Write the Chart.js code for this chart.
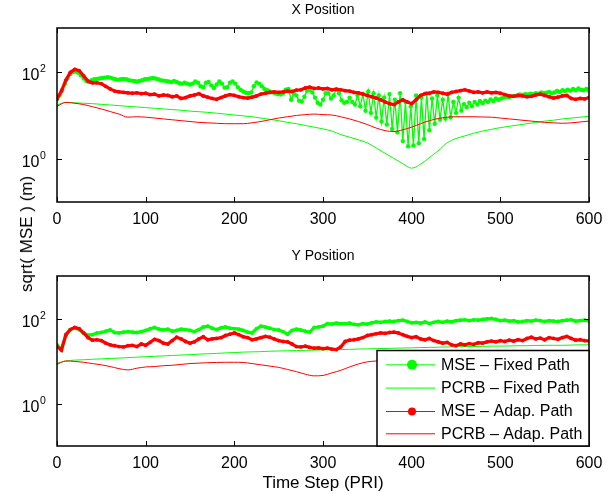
<!doctype html>
<html lang="en">
<head>
<meta charset="utf-8">
<title>X / Y Position - sqrt(MSE)</title>
<style>
  body { margin: 0; background: #fff; }
  #wrap { position: relative; width: 616px; height: 494px; background: #fff; font-family: "Liberation Sans", Arial, sans-serif; }
  #topChart { position: absolute; left: 0; top: 0; }
  #botChart { position: absolute; left: 0; top: 244px; }
  #ylab { position: absolute; left: 27px; top: 234px; transform: translate(-50%, -50%) rotate(-90deg);
          font-size: 17px; white-space: nowrap; color: #000; line-height: normal; }
</style>
</head>
<body>
<div id="wrap">
  <canvas id="topChart" width="616" height="244"></canvas>
  <canvas id="botChart" width="616" height="250"></canvas>
  <div id="ylab">sqrt( MSE ) (m)</div>
</div>

<script src="https://cdn.jsdelivr.net/npm/chart.js"></script>
<script>
  const FONT = '"Liberation Sans", Arial, sans-serif';
  const GREEN = 'rgb(0, 255, 0)';
  const RED = 'rgb(255, 0, 0)';

  const X_TICKS = [0, 100, 200, 300, 400, 500, 600];
  const Y_TICKS = [1, 100];
  const Y_TICK_EXP = ['0', '2'];

  // time steps (PRI) of the sampled values
  function steps(n, step) { return Array.from({length: n}, (_, i) => i * step); }
  const t3 = steps(201, 3);
  const t5 = steps(121, 5);
  const t10 = steps(61, 10);

  // ---- X Position ----
  const xMseFixed = [
    23.4, 28.2, 38.0, 52.5, 70.8, 87.1, 97.7, 100, 93.3, 81.3,
    69.2, 60.3, 57.5, 63.1, 66.1, 67.6, 69.2, 70.8, 72.4, 74.1,
    72.4, 69.2, 66.1, 64.6, 66.1, 67.6, 66.1, 63.1, 61.7, 60.3,
    58.9, 60.3, 63.1, 66.1, 67.6, 69.2, 70.8, 69.2, 66.1, 63.1,
    61.7, 60.3, 58.9, 57.5, 60.3, 57.5, 53.7, 52.5, 55.0, 52.5,
    50.1, 52.5, 58.9, 55.0, 45.7, 43.7, 55.0, 57.5, 47.9, 41.7,
    50.1, 58.9, 52.5, 42.7, 43.7, 55.0, 58.9, 52.5, 43.7, 38.0,
    34.7, 32.4, 31.6, 33.1, 45.7, 56.2, 52.5, 45.7, 39.8, 37.2,
    34.7, 33.1, 31.6, 30.2, 29.5, 31.6, 38.0, 39.8, 22.4, 31.6,
    28.2, 21.4, 20.4, 26.3, 36.3, 38.0, 33.1, 25.1, 19.1, 17.4,
    22.4, 31.6, 31.6, 24.0, 28.2, 39.8, 31.6, 21.9, 19.1, 20.0,
    25.1, 20.0, 17.4, 28.2, 15.8, 30.2, 12.6, 34.7, 11.2, 31.6,
    8.71, 28.2, 7.08, 25.1, 6.03, 30.2, 4.79, 22.4, 3.98, 31.6,
    2.51, 20.0, 1.91, 15.8, 2.00, 28.2, 2.24, 25.1, 2.82, 31.6,
    4.47, 24.0, 6.31, 28.2, 7.94, 22.4, 8.32, 29.5, 8.91, 20.0,
    11.2, 25.1, 12.6, 17.8, 15.1, 19.1, 15.8, 20.0, 17.4, 20.9,
    18.6, 21.4, 20.0, 22.9, 20.9, 24.0, 22.4, 24.0, 25.1, 26.3,
    25.7, 26.9, 27.5, 28.2, 29.5, 28.8, 30.2, 29.5, 30.9, 30.2,
    31.6, 30.9, 33.1, 31.6, 32.4, 33.9, 31.6, 33.1, 35.5, 33.9,
    37.2, 35.5, 38.0, 36.3, 39.8, 37.2, 40.7, 38.0, 37.2, 39.8,
    36.3
  ];
  const xPcrbFixed = [
    17.0, 19.5, 19.1, 18.6, 18.2, 17.6, 17.0, 16.4, 15.8, 15.3,
    14.8, 14.3, 13.8, 13.3, 12.9, 12.3, 11.9, 11.5, 11.0, 10.5,
    10.0, 9.55, 9.12, 8.51, 7.94, 7.41, 6.76, 6.31, 5.75, 5.25,
    4.79, 4.27, 3.55, 3.09, 2.69, 2.29, 1.74, 1.32, 1.00, 0.76,
    0.60, 0.74, 1.05, 1.51, 2.29, 2.88, 3.31, 3.80, 4.27, 4.68,
    5.13, 5.50, 5.89, 6.31, 6.76, 7.24, 7.59, 8.13, 8.51, 8.91,
    9.33
  ];
  const xMseAdap = [
    23.4, 35.5, 63.1, 95.5, 112, 105, 79.4, 60.3, 55.0, 55.0,
    52.5, 45.7, 39.8, 35.5, 33.9, 33.1, 32.4, 31.6, 32.4, 30.9,
    31.6, 29.5, 30.2, 27.5, 28.8, 28.2, 26.3, 27.5, 24.0, 25.1,
    27.5, 28.8, 30.9, 27.5, 25.7, 24.0, 22.9, 25.1, 27.5, 29.5,
    28.2, 26.3, 25.1, 24.5, 25.7, 27.5, 30.2, 31.6, 33.1, 33.9,
    33.1, 33.9, 35.5, 34.7, 37.2, 38.0, 41.7, 43.7, 40.7, 41.7,
    39.8, 40.7, 38.0, 38.9, 38.0, 36.3, 35.5, 33.1, 32.4, 30.2,
    28.2, 26.3, 24.5, 22.4, 20.0, 18.2, 17.4, 20.0, 22.4, 20.0,
    18.2, 22.4, 28.2, 30.9, 31.6, 33.9, 33.1, 31.6, 30.2, 33.1,
    34.7, 36.3, 38.0, 35.5, 33.1, 33.9, 32.4, 33.9, 32.4, 33.1,
    31.6, 29.5, 27.5, 26.9, 28.2, 27.5, 26.3, 26.9, 28.8, 30.2,
    28.2, 26.3, 24.5, 25.7, 27.5, 28.2, 24.0, 22.9, 24.0, 23.4,
    25.1
  ];
  const xPcrbAdap = [
    15.8, 19.5, 18.6, 17.4, 15.5, 13.8, 12.0, 10.5, 8.91, 9.12,
    8.91, 8.51, 8.13, 7.76, 7.41, 7.08, 6.76, 6.61, 6.46, 6.31,
    6.31, 6.31, 6.61, 7.08, 7.76, 8.51, 9.12, 9.77, 10.2, 10.5,
    10.2, 10.0, 9.12, 8.13, 7.08, 6.03, 5.01, 4.37, 4.17, 4.57,
    5.25, 6.31, 7.41, 8.32, 8.91, 9.12, 9.12, 9.12, 9.00, 8.91,
    8.51, 8.13, 7.76, 7.41, 7.08, 6.76, 6.61, 6.46, 6.61, 6.92,
    7.24
  ];

  // ---- Y Position ----
  const yMseFixed = [
    24.0, 18.2, 39.8, 55.0, 58.9, 55.0, 44.7, 40.7, 41.7, 45.7,
    46.8, 50.1, 53.7, 46.8, 45.7, 47.9, 49.0, 47.9, 46.8, 49.0,
    52.5, 57.5, 61.7, 56.2, 53.7, 56.2, 50.1, 52.5, 56.2, 55.0,
    52.5, 49.0, 55.0, 63.1, 66.1, 58.9, 55.0, 60.3, 63.1, 58.9,
    57.5, 56.2, 52.5, 47.9, 45.7, 57.5, 66.1, 63.1, 58.9, 55.0,
    53.7, 49.0, 42.7, 52.5, 56.2, 53.7, 50.1, 47.9, 61.7, 63.1,
    66.1, 75.9, 74.1, 77.6, 75.9, 75.9, 77.6, 72.4, 70.8, 75.9,
    74.1, 79.4, 83.2, 81.3, 85.1, 87.1, 85.1, 89.1, 91.2, 85.1,
    79.4, 81.3, 77.6, 83.2, 75.9, 81.3, 85.1, 81.3, 87.1, 83.2,
    89.1, 91.2, 93.3, 89.1, 93.3, 91.2, 95.5, 97.7, 100, 95.5,
    89.1, 91.2, 87.1, 89.1, 83.2, 85.1, 89.1, 87.1, 91.2, 89.1,
    85.1, 89.1, 87.1, 85.1, 89.1, 91.2, 93.3, 87.1, 89.1, 91.2,
    87.1
  ];
  const yPcrbFixed = [
    8.91, 10.0, 10.5, 10.7, 11.0, 11.2, 11.5, 11.7, 12.0, 12.3,
    12.6, 12.9, 13.2, 13.5, 13.8, 14.1, 14.5, 14.8, 15.1, 15.5,
    15.8, 16.2, 16.4, 16.6, 17.0, 17.2, 17.4, 17.6, 17.8, 18.0,
    18.2, 18.4, 18.6, 18.8, 19.1, 19.3, 19.5, 19.7, 20.0, 20.2,
    20.4, 20.7, 20.9, 21.1, 21.4, 21.6, 21.9, 21.9, 22.1, 22.4,
    22.4, 22.6, 22.9, 22.9, 23.2, 23.4, 23.4, 23.4, 23.7, 24.0,
    24.0
  ];
  const yMseAdap = [
    21.9, 18.2, 41.7, 55.0, 61.7, 57.5, 45.7, 35.5, 30.9, 31.6,
    30.2, 26.3, 24.0, 22.9, 21.9, 21.4, 22.9, 23.4, 21.9, 25.1,
    23.4, 27.5, 32.4, 30.2, 26.3, 25.1, 30.2, 36.3, 33.1, 28.8,
    26.3, 28.2, 33.1, 37.2, 31.6, 33.1, 33.9, 35.5, 39.8, 42.7,
    45.7, 41.7, 37.2, 35.5, 31.6, 33.1, 35.5, 38.0, 36.3, 33.1,
    30.2, 28.8, 28.2, 25.1, 21.9, 21.4, 22.4, 20.9, 20.0, 20.4,
    19.5, 20.0, 19.1, 18.6, 21.4, 28.8, 30.9, 31.6, 33.1, 35.5,
    39.8, 41.7, 43.7, 45.7, 44.7, 46.8, 47.9, 45.7, 41.7, 38.0,
    35.5, 37.2, 33.1, 31.6, 33.9, 30.2, 28.2, 26.3, 27.5, 24.0,
    22.9, 25.1, 24.0, 25.7, 24.5, 26.9, 26.3, 28.2, 29.5, 28.2,
    30.2, 28.8, 30.9, 29.5, 31.6, 30.2, 33.9, 36.3, 33.1, 34.7,
    31.6, 35.5, 33.9, 32.4, 35.5, 38.0, 33.9, 30.9, 31.6, 30.2,
    29.5
  ];
  const yPcrbAdap = [
    8.32, 10.0, 9.77, 9.33, 8.71, 8.13, 7.41, 6.61, 6.17, 6.76,
    7.24, 7.41, 7.76, 7.94, 8.32, 8.71, 8.91, 9.12, 9.23, 9.33,
    9.33, 9.23, 8.71, 8.13, 7.59, 7.08, 6.31, 5.62, 4.90, 4.47,
    4.57, 5.25, 6.03, 7.24, 8.51, 9.55, 10.0, 10.2, 10.5, 10.5,
    10.5, 10.7, 10.7, 10.7, 10.7, 10.5, 10.5, 10.2, 10.2, 10.0,
    10.0, 9.77, 9.77, 9.55, 9.55, 9.55, 9.77, 9.77, 10.0, 10.0,
    10.2
  ];

  function pts(ts, vs) { return ts.map((t, i) => ({x: t, y: vs[i]})); }

  function makeDatasets(mseFixed, tFixed, pcrbFixed, mseAdap, pcrbAdap) {
    const dense = tFixed === t3;
    return [
      {label: 'MSE \u2013 Fixed Path', data: pts(tFixed, mseFixed), borderColor: GREEN, backgroundColor: GREEN,
       borderWidth: dense ? 1.3 : 3.2, pointRadius: dense ? 2.2 : 1.9, pointBorderWidth: 0, pointHoverRadius: 0,
       order: 4, legendMarker: 5},
      {label: 'PCRB \u2013 Fixed Path', data: pts(t10, pcrbFixed), borderColor: GREEN, borderWidth: 1,
       pointRadius: 0, cubicInterpolationMode: 'monotone', order: 3},
      {label: 'MSE \u2013 Adap. Path', data: pts(t5, mseAdap), borderColor: RED, backgroundColor: RED,
       borderWidth: 3.2, pointRadius: 1.9, pointBorderWidth: 0, pointHoverRadius: 0, order: 2, legendMarker: 4},
      {label: 'PCRB \u2013 Adap. Path', data: pts(t10, pcrbAdap), borderColor: RED, borderWidth: 1,
       pointRadius: 0, cubicInterpolationMode: 'monotone', order: 1}
    ];
  }

  function line(ctx, x1, y1, x2, y2) {
    ctx.beginPath(); ctx.moveTo(x1, y1); ctx.lineTo(x2, y2); ctx.stroke();
  }

  // matlab style box, inward ticks, 10^n labels and the axes title
  const framePlugin = {
    id: 'frame',
    afterDraw(chart, args, opts) {
      const {ctx, chartArea: a, scales: {x, y}} = chart;
      ctx.save();
      ctx.strokeStyle = '#000';
      ctx.lineWidth = 1.5;
      ctx.strokeRect(a.left, a.top, a.right - a.left, a.bottom - a.top);
      ctx.lineWidth = 1;
      X_TICKS.forEach(v => {
        const px = Math.round(x.getPixelForValue(v)) + 0.5;
        line(ctx, px, a.bottom, px, a.bottom - 5);
        line(ctx, px, a.top, px, a.top + 5);
      });
      ctx.fillStyle = '#000';
      Y_TICKS.forEach((v, i) => {
        const py = Math.round(y.getPixelForValue(v)) + 0.5;
        line(ctx, a.left, py, a.left + 5, py);
        line(ctx, a.right, py, a.right - 5, py);
        ctx.textBaseline = 'alphabetic';
        ctx.textAlign = 'right';
        ctx.font = '16px ' + FONT;
        ctx.fillText('10', a.left - 17.5, py + 7.5);
        ctx.textAlign = 'left';
        ctx.font = '10.5px ' + FONT;
        ctx.fillText(Y_TICK_EXP[i], a.left - 17, py - 0.8);
      });
      ctx.textAlign = 'center';
      ctx.textBaseline = 'middle';
      ctx.font = '14px ' + FONT;
      ctx.fillText(opts.title, (a.left + a.right) / 2, a.top - opts.titleGap);
      ctx.restore();
    }
  };

  // legend box in the lower right corner of the axes
  const legendBox = {
    id: 'legendBox',
    afterDraw(chart) {
      const {ctx, chartArea: a} = chart;
      const w = 212, h = 95.5;
      const bx = a.right - w, by = a.bottom - h;
      const rows = [14.3, 37.6, 61, 83.3];
      ctx.save();
      ctx.fillStyle = '#fff';
      ctx.fillRect(bx, by, w, h);
      ctx.strokeStyle = '#000';
      ctx.lineWidth = 1.5;
      ctx.strokeRect(bx, by, w, h);
      chart.data.datasets.forEach((ds, i) => {
        const cy = by + rows[i];
        ctx.strokeStyle = ds.borderColor;
        ctx.lineWidth = 1;
        line(ctx, bx + 9, cy, bx + 58, cy);
        if (ds.legendMarker) {
          ctx.fillStyle = ds.borderColor;
          ctx.beginPath(); ctx.arc(bx + 35, cy, ds.legendMarker, 0, Math.PI * 2); ctx.fill();
        }
        ctx.fillStyle = '#000';
        ctx.font = '16px ' + FONT;
        ctx.textAlign = 'left';
        ctx.textBaseline = 'middle';
        ctx.fillText(ds.label, bx + 64, cy + 0.5);
      });
      ctx.restore();
    }
  };

  function makeOptions(title, padTop, titleGap, xAxisH, xTitle) {
    return {
      responsive: false,
      animation: false,
      devicePixelRatio: 1,
      layout: {padding: {left: 0, right: 27, top: padTop, bottom: 0}},
      plugins: {
        legend: {display: false},
        tooltip: {enabled: false},
        frame: {title: title, titleGap: titleGap}
      },
      scales: {
        x: {
          type: 'linear', min: 0, max: 600,
          grid: {display: false, drawTicks: false},
          border: {display: false},
          ticks: {stepSize: 100, color: '#000', font: {family: FONT, size: 16}, padding: 8,
                  maxRotation: 0, autoSkip: false},
          title: xTitle ? {display: true, text: xTitle, color: '#000',
                           font: {family: FONT, size: 17}, padding: 0} : {display: false},
          afterFit: s => { s.height = xAxisH; }
        },
        y: {
          type: 'logarithmic', min: 0.1, max: 1000,
          grid: {display: false, drawTicks: false},
          border: {display: false},
          ticks: {display: false},
          afterFit: s => { s.width = 57; }
        }
      }
    };
  }

  new Chart(document.getElementById('topChart'), {
    type: 'line',
    data: {datasets: makeDatasets(xMseFixed, t3, xPcrbFixed, xMseAdap, xPcrbAdap)},
    options: makeOptions('X Position', 28, 18, 42, null),
    plugins: [framePlugin]
  });

  new Chart(document.getElementById('botChart'), {
    type: 'line',
    data: {datasets: makeDatasets(yMseFixed, t5, yPcrbFixed, yMseAdap, yPcrbAdap)},
    options: makeOptions('Y Position', 32, 19.5, 48, 'Time Step (PRI)'),
    plugins: [framePlugin, legendBox]
  });
</script>
</body>
</html>
